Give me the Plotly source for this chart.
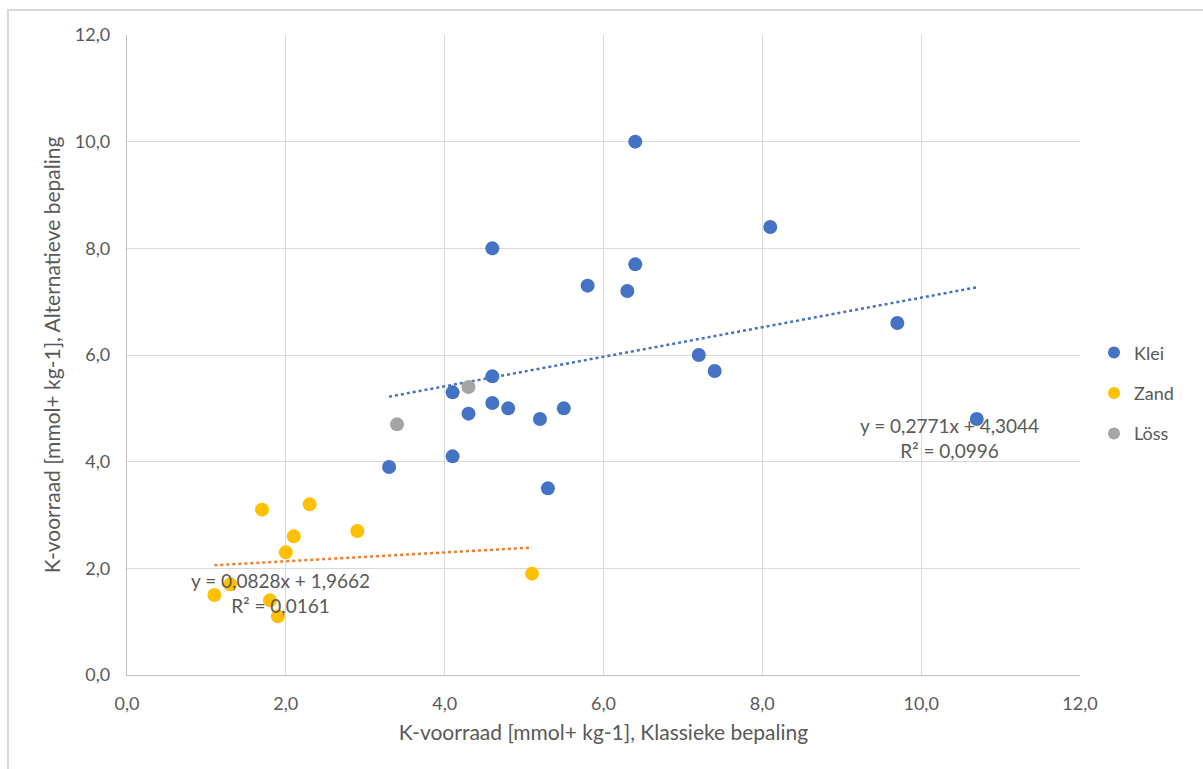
import plotly.graph_objects as go

# ---- data ----
klei_x = [6.4, 8.1, 4.6, 6.4, 5.8, 6.3, 9.7, 7.2, 7.4, 4.6, 4.1, 4.6, 4.8, 5.5, 4.3, 5.2, 10.7, 4.1, 3.3, 5.3]
klei_y = [10.0, 8.4, 8.0, 7.7, 7.3, 7.2, 6.6, 6.0, 5.7, 5.6, 5.3, 5.1, 5.0, 5.0, 4.9, 4.8, 4.8, 4.1, 3.9, 3.5]
zand_x = [1.7, 2.3, 2.1, 2.9, 2.0, 5.1, 1.3, 1.1, 1.8, 1.9]
zand_y = [3.1, 3.2, 2.6, 2.7, 2.3, 1.9, 1.7, 1.5, 1.4, 1.1]
loss_x = [3.4, 4.3]
loss_y = [4.7, 5.4]

klei_slope, klei_icpt, klei_r2 = 0.2771, 4.3044, 0.0996
zand_slope, zand_icpt, zand_r2 = 0.0828, 1.9662, 0.0161

x_ticks = [0, 2, 4, 6, 8, 10, 12]
y_ticks = [0, 2, 4, 6, 8, 10, 12]
tick_text = ["0,0", "2,0", "4,0", "6,0", "8,0", "10,0", "12,0"]

C_KLEI = "#4472C4"
C_ZAND = "#FFC000"
C_LOSS = "#A5A5A5"
C_ZTREND = "#ED7D31"
TXT = "#595959"
FONT = "Lato, 'Open Sans', sans-serif"

def fmt(v, d=4):
    return f"{v:.{d}f}".replace(".", ",")

fig = go.Figure()

# trendlines
kx = [min(klei_x), max(klei_x)]
fig.add_trace(go.Scatter(x=kx, y=[klei_slope * v + klei_icpt for v in kx], mode="lines",
                         line=dict(color=C_KLEI, width=2.5, dash="dot"), showlegend=False, hoverinfo="skip"))
zx = [min(zand_x), max(zand_x)]
fig.add_trace(go.Scatter(x=zx, y=[zand_slope * v + zand_icpt for v in zx], mode="lines",
                         line=dict(color=C_ZTREND, width=2.5, dash="dot"), showlegend=False, hoverinfo="skip"))

mk = dict(size=14, line=dict(width=0))
fig.add_trace(go.Scatter(x=klei_x, y=klei_y, mode="markers", name="Klei", legendgroup="a",
                         marker=dict(color=C_KLEI, **mk)))
fig.add_trace(go.Scatter(x=zand_x, y=zand_y, mode="markers", name="Zand", legendgroup="b",
                         marker=dict(color=C_ZAND, **mk)))
fig.add_trace(go.Scatter(x=loss_x, y=loss_y, mode="markers", name="Löss", legendgroup="c",
                         marker=dict(color=C_LOSS, **mk)))

axis_common = dict(
    range=[0, 12], tickmode="array", tickvals=x_ticks, ticktext=tick_text,
    showgrid=True, gridcolor="#D9D9D9", gridwidth=1.3,
    showline=True, linecolor="#BFBFBF", linewidth=1.3,
    zeroline=False, ticks="", ticklabelstandoff=12,
    tickfont=dict(family=FONT, size=18, color=TXT),
)

fig.update_layout(
    width=1203, height=769,
    margin=dict(l=127, r=123, t=35, b=94),
    paper_bgcolor="white", plot_bgcolor="white",
    font=dict(family=FONT, color=TXT),
    xaxis=dict(**axis_common,
               title=dict(text="K-voorraad [mmol+ kg-1], Klassieke bepaling",
                          font=dict(family=FONT, size=21, color=TXT), standoff=12)),
    yaxis=dict(**{**axis_common, "tickvals": y_ticks},
               title=dict(text="K-voorraad [mmol+ kg-1], Alternatieve bepaling",
                          font=dict(family=FONT, size=21, color=TXT), standoff=8)),
    legend=dict(x=1.0147, y=0.44, xanchor="left", yanchor="middle",
                font=dict(family=FONT, size=18, color=TXT),
                itemsizing="constant", tracegroupgap=14, itemwidth=30,
                bgcolor="rgba(0,0,0,0)"),
    showlegend=True,
)

# trendline equations
fig.add_annotation(x=10.36, y=4.44, xref="x", yref="y", showarrow=False, align="center",
                   text=f"y = {fmt(klei_slope)}x + {fmt(klei_icpt)}<br>R² = {fmt(klei_r2)}",
                   font=dict(family=FONT, size=19, color=TXT))
fig.add_annotation(x=1.93, y=1.54, xref="x", yref="y", showarrow=False, align="center",
                   text=f"y = {fmt(zand_slope)}x + {fmt(zand_icpt)}<br>R² = {fmt(zand_r2)}",
                   font=dict(family=FONT, size=19, color=TXT))

# outer chart border
fig.add_shape(type="rect", xref="paper", yref="paper",
              x0=-0.1249, x1=1.2, y0=-0.2, y1=1.039,
              line=dict(color="#D9D9D9", width=2), layer="below")

fig.write_html("out.html")
